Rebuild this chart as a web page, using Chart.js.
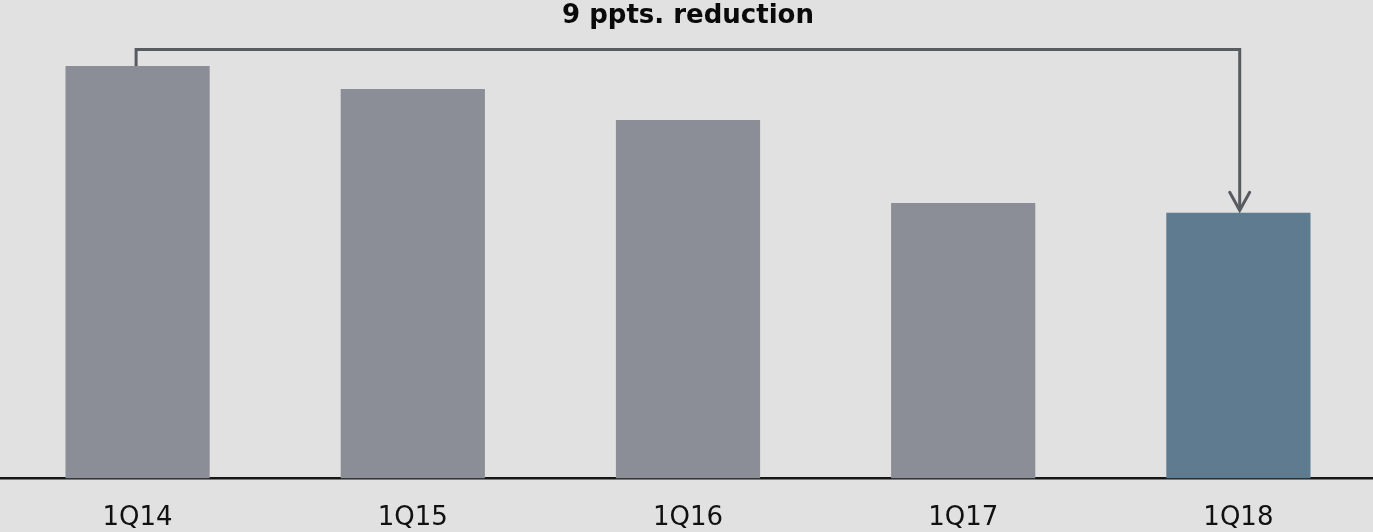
<!DOCTYPE html>
<html>
<head>
<meta charset="utf-8">
<script src="https://cdn.jsdelivr.net/npm/chart.js@4/dist/chart.umd.min.js"></script>
<style>
  html, body { margin: 0; padding: 0; background: #e0e1e0; overflow: hidden; }
  #wrap { width: 1373px; height: 532px; overflow: hidden; }
</style>
</head>
<body>
<div id="wrap"><canvas id="chart" width="1376" height="532"></canvas></div>
<script>
// Quarterly ratio, in percent
const quarters = ['1Q14', '1Q15', '1Q16', '1Q17', '1Q18'];
const ratioValues = [25.3, 23.9, 22.0, 16.9, 16.3];
const barColors = ['#8b8e96', '#8b8e96', '#8b8e96', '#8b8e96', '#5e7b8f'];
const headline = '9 ppts. reduction';

// Bracket from the first bar to the last one, ending in an arrow head
const bracketPlugin = {
  id: 'bracket',
  afterDatasetsDraw(chart) {
    const meta = chart.getDatasetMeta(0);
    const first = meta.data[0];
    const last = meta.data[meta.data.length - 1];
    const ctx = chart.ctx;
    const topY = 49.5;
    const x1 = first.x - 1.5;
    const x2 = last.x + 1.3;
    const tipY = last.y - 2.5;
    ctx.save();
    ctx.strokeStyle = '#585b60';
    ctx.lineWidth = 3;
    ctx.lineJoin = 'miter';
    ctx.beginPath();
    ctx.moveTo(x1, first.y);
    ctx.lineTo(x1, topY);
    ctx.lineTo(x2, topY);
    ctx.lineTo(x2, tipY);
    ctx.stroke();
    ctx.lineCap = 'round';
    ctx.beginPath();
    ctx.moveTo(x2 - 10, tipY - 18);
    ctx.lineTo(x2, tipY);
    ctx.lineTo(x2 + 10, tipY - 18);
    ctx.stroke();
    ctx.restore();
  }
};

new Chart(document.getElementById('chart'), {
  type: 'bar',
  data: {
    labels: quarters,
    datasets: [{
      data: ratioValues,
      backgroundColor: barColors,
      borderWidth: 0,
      categoryPercentage: 1,
      barPercentage: 0.524
    }]
  },
  options: {
    responsive: false,
    animation: false,
    events: [],
    layout: { padding: 0 },
    plugins: {
      legend: { display: false },
      tooltip: { enabled: false },
      title: {
        display: true,
        text: headline,
        color: '#0a0a0a',
        font: { family: 'DejaVu Sans', size: 26, weight: 'bold', lineHeight: 1.2 },
        padding: { top: 1, bottom: 6.2 }
      }
    },
    scales: {
      x: {
        z: 1,
        grid: { display: false, drawTicks: false },
        border: { display: true, color: '#161616', width: 2.5 },
        ticks: {
          color: '#111111',
          padding: 24,
          font: { family: 'DejaVu Sans', size: 26 }
        },
        afterFit(scale) { scale.height = 53.5; }
      },
      y: {
        display: false,
        min: 0,
        max: 27
      }
    }
  },
  plugins: [bracketPlugin]
});
</script>
</body>
</html>
